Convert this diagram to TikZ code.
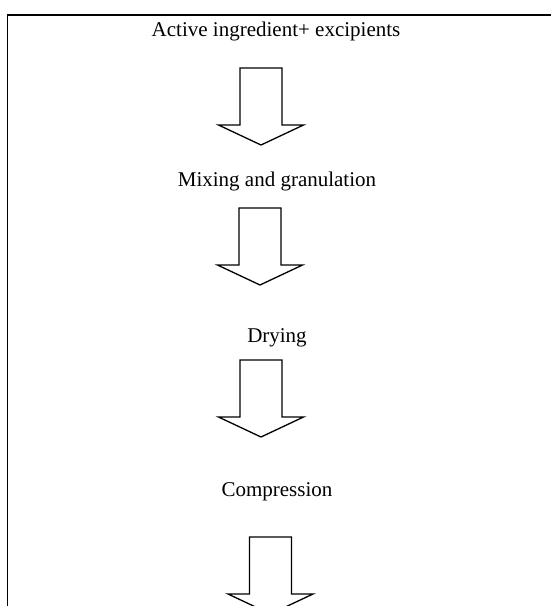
\documentclass[tikz,border=0pt]{standalone}
\usepackage{fontspec}
\setmainfont{Liberation Serif}
\begin{document}
\begin{tikzpicture}[x=1pt, y=-1pt,
    step label/.style = {anchor=base, inner sep=0pt,
      font=\fontsize{21}{25}\selectfont},
    block arrow/.style = {draw, line width=1.3pt, line join=miter}]
  \useasboundingbox (0,0) rectangle (551,606);
  % open frame, only top and left sides show
  \draw[line width=1.5pt] (7.5,606) -- (7.5,15) -- (551,15);
  \node[step label] (ingredients) at (276,36) {Active ingredient+ excipients};
  \node[step label] (mixing) at (277,186) {Mixing and granulation};
  \node[step label] (drying) at (277,342) {Drying};
  \node[step label] (compression) at (277,496) {Compression};
  % hollow arrows between the steps
  \foreach \cx/\ty in {261/68, 260/208, 261/360, 270.5/537} {
    \draw[block arrow] ({\cx-21},\ty) -- ({\cx+21},\ty) -- ({\cx+21},\ty+57)
      -- ({\cx+42.5},\ty+57) -- (\cx,\ty+77) -- ({\cx-42.5},\ty+57)
      -- ({\cx-21},\ty+57) -- cycle;
  }
\end{tikzpicture}
\end{document}
